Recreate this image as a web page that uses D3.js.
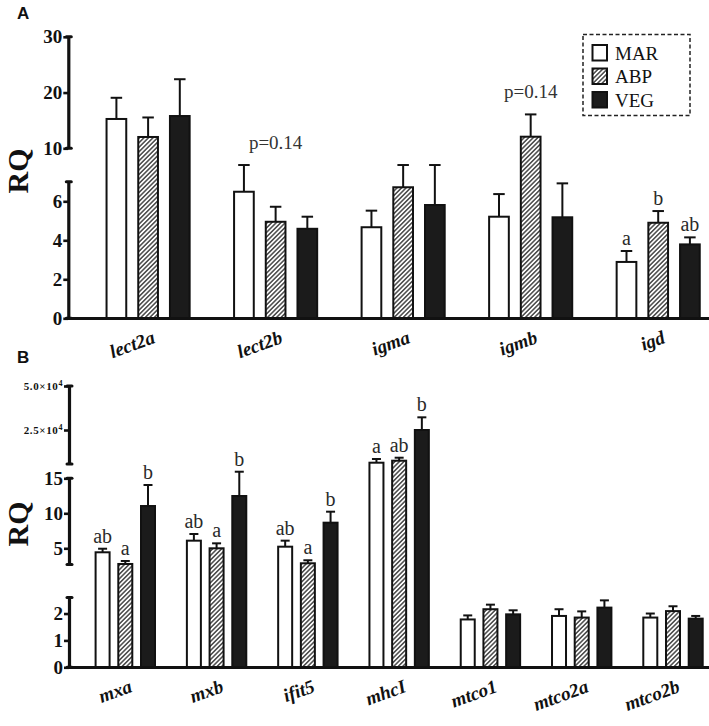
<!DOCTYPE html>
<html><head><meta charset="utf-8">
<script src="https://cdn.jsdelivr.net/npm/d3@7"></script>
<style>body{margin:0;background:#fff}svg{display:block}</style>
</head><body>
<svg id="c" width="709" height="726"></svg>
<script>
// ---------- DATA ----------
const seriesNames = ["MAR", "ABP", "VEG"];

// Panel A
const genesA = ["lect2a", "lect2b", "igma", "igmb", "igd"];
const marA = [15.26, 6.49, 4.67, 5.21, 2.89];
const abpA = [12.03, 4.95, 6.72, 12.08, 4.90];
const vegA = [15.79, 4.59, 5.81, 5.18, 3.79];
const marErrA = [3.8, 1.37, 0.85, 1.16, 0.56];
const abpErrA = [3.5, 0.77, 1.14, 4.0, 0.60];
const vegErrA = [6.6, 0.62, 2.05, 1.74, 0.36];
const ticksA_low = [0, 2, 4, 6];
const ticksA_high = [10, 20, 30];
const lettersA = [
  {gene: "igd", series: "MAR", text: "a"},
  {gene: "igd", series: "ABP", text: "b"},
  {gene: "igd", series: "VEG", text: "ab"}
];
const pLabelsA = [
  {gene: "lect2b", text: "p=0.14"},
  {gene: "igmb", text: "p=0.14"}
];

// Panel B
const genesB = ["mxa", "mxb", "ifit5", "mhcI", "mtco1", "mtco2a", "mtco2b"];
const marB = [4.43, 6.09, 5.23, 6420, 1.78, 1.91, 1.85];
const abpB = [2.76, 5.00, 2.86, 7560, 2.16, 1.85, 2.09];
const vegB = [11.04, 12.47, 8.66, 25000, 1.97, 2.22, 1.81];
const marErrB = [0.51, 0.95, 0.86, 2100, 0.15, 0.25, 0.15];
const abpErrB = [0.43, 0.71, 0.43, 1700, 0.17, 0.23, 0.18];
const vegErrB = [3.0, 3.47, 1.57, 7200, 0.15, 0.27, 0.10];
const ticksB_low = [0, 1, 2];
const ticksB_mid = [5, 10, 15];
const ticksB_high = [25000, 50000];
const tickLabelsB_high = ["2.5", "5.0"];
const lettersB = [
  {gene: "mxa", series: "MAR", text: "ab"}, {gene: "mxa", series: "ABP", text: "a"}, {gene: "mxa", series: "VEG", text: "b"},
  {gene: "mxb", series: "MAR", text: "ab"}, {gene: "mxb", series: "ABP", text: "a"}, {gene: "mxb", series: "VEG", text: "b"},
  {gene: "ifit5", series: "MAR", text: "ab"}, {gene: "ifit5", series: "ABP", text: "a"}, {gene: "ifit5", series: "VEG", text: "b"},
  {gene: "mhcI", series: "MAR", text: "a"}, {gene: "mhcI", series: "ABP", text: "ab"}, {gene: "mhcI", series: "VEG", text: "b"}
];

// ---------- DRAW ----------
const W = 709;
const svg = d3.select("#c");
const defs = svg.append("defs");
const pat = defs.append("pattern").attr("id", "hatch").attr("patternUnits", "userSpaceOnUse")
  .attr("width", 3.2).attr("height", 3.2).attr("patternTransform", "rotate(45)");
pat.append("rect").attr("width", 3.2).attr("height", 3.2).attr("fill", "#fff");
pat.append("line").attr("x1", 0.8).attr("y1", 0).attr("x2", 0.8).attr("y2", 3.2)
  .attr("stroke", "#3a3a3a").attr("stroke-width", 1.4);

const fills = {MAR: "#ffffff", ABP: "url(#hatch)", VEG: "#1b1b1b"};
const SERIF = "Liberation Serif, Times New Roman, serif";

function panel(cfg) {
  const g = svg.append("g");
  const segs = cfg.segments.map(s => Object.assign({}, s, {
    scale: d3.scaleLinear().domain(s.domain).range(s.range)
  }));
  const yOf = v => {
    let seg = segs[0];
    for (const s of segs) if (v >= s.domain[0]) seg = s;
    return seg.scale(v);
  };
  const xG = d3.scalePoint().domain(cfg.genes).range(cfg.centers);
  const pad = 1 - cfg.barOuter / cfg.step;
  const xS = d3.scaleBand().domain(seriesNames)
    .range([-1.5 * cfg.step, 1.5 * cfg.step]).paddingInner(pad).paddingOuter(pad / 2);
  const bw = xS.bandwidth();

  const rows = [];
  cfg.genes.forEach((gene, i) => {
    seriesNames.forEach((s, j) => {
      rows.push({gene, series: s, v: cfg.values[j][i], e: cfg.errors[j][i]});
    });
  });
  const cx = d => xG(d.gene) + xS(d.series) + bw / 2;

  // error bars
  const eb = g.append("g").attr("stroke", "#111").attr("stroke-width", 2);
  eb.selectAll("line.v").data(rows).join("line").attr("class", "v")
    .attr("x1", cx).attr("x2", cx)
    .attr("y1", d => yOf(d.v)).attr("y2", d => yOf(d.v + d.e));
  eb.selectAll("line.c").data(rows).join("line").attr("class", "c")
    .attr("x1", d => cx(d) - cfg.capW / 2).attr("x2", d => cx(d) + cfg.capW / 2)
    .attr("y1", d => yOf(d.v + d.e)).attr("y2", d => yOf(d.v + d.e));

  // bars
  g.append("g").selectAll("rect").data(rows).join("rect")
    .attr("x", d => xG(d.gene) + xS(d.series) + 1)
    .attr("width", bw - 2)
    .attr("y", d => yOf(d.v))
    .attr("height", d => cfg.baseY - yOf(d.v))
    .attr("fill", d => fills[d.series])
    .attr("stroke", "#111").attr("stroke-width", 2);

  // y axis segments (broken axis)
  segs.forEach(s => {
    const ax = d3.axisLeft(s.scale).tickValues(s.ticks).tickSize(5).tickPadding(1).tickSizeOuter(0)
      .tickFormat(d3.format("d"));
    const a = g.append("g").attr("transform", `translate(${cfg.axisX},0)`).call(ax)
      .attr("font-family", SERIF).attr("font-size", s.fontSize || 19).attr("font-weight", "bold");
    a.select(".domain").attr("stroke", "#111").attr("stroke-width", 3.2);
    a.selectAll(".tick line").attr("stroke", "#111").attr("stroke-width", 2.6);
    a.selectAll(".tick text").attr("fill", "#111");
    if (s.sup) {
      a.selectAll(".tick text").each(function (d, i) {
        const t = d3.select(this);
        t.text(null).attr("letter-spacing", 0.6);
        t.append("tspan").text(s.sup.mant[i] + "\u00d710");
        t.append("tspan").attr("dy", "-0.45em").attr("font-size", 8).text(s.sup.exp);
      });
    }
    a.selectAll("rect.cap").data(s.range).join("rect").attr("class", "cap")
      .attr("x", -3.5).attr("width", 8).attr("y", d => d - 1.5).attr("height", 3)
      .attr("rx", 1.5).attr("fill", "#111");
  });

  // x baseline
  g.append("line").attr("x1", cfg.axisX - 1).attr("x2", W).attr("y1", cfg.baseY).attr("y2", cfg.baseY)
    .attr("stroke", "#111").attr("stroke-width", 3.2);

  // x labels, rotated -20deg, end-anchored near the group centre
  g.append("g").selectAll("text").data(cfg.genes).join("text")
    .attr("transform", d => `translate(${xG(d) + 8},${cfg.baseY + 24}) rotate(-20)`)
    .attr("text-anchor", "end")
    .attr("font-family", SERIF).attr("font-weight", "bold").attr("font-style", "italic")
    .attr("font-size", 19).attr("fill", "#111").text(d => d);

  // significance letters
  const rowOf = (gene, s) => rows.find(r => r.gene === gene && r.series === s);
  g.append("g").selectAll("text").data(cfg.letters).join("text")
    .attr("x", d => cx(rowOf(d.gene, d.series)))
    .attr("y", d => { const r = rowOf(d.gene, d.series); return yOf(r.v + r.e) - 6; })
    .attr("text-anchor", "middle")
    .attr("font-family", SERIF).attr("font-size", 20).attr("fill", "#2a2a2a")
    .text(d => d.text);

  // p labels
  if (cfg.pLabels) {
    g.append("g").selectAll("text").data(cfg.pLabels).join("text")
      .attr("x", d => xG(d.gene))
      .attr("y", d => d3.min(rows.filter(r => r.gene === d.gene), r => yOf(r.v + r.e)) - 16)
      .attr("text-anchor", "middle")
      .attr("font-family", SERIF).attr("font-size", 19).attr("fill", "#333")
      .text(d => d.text);
  }

  // y title
  g.append("text").attr("transform", `translate(28,${cfg.titleY}) rotate(-90)`)
    .attr("text-anchor", "middle")
    .attr("font-family", SERIF).attr("font-weight", "bold").attr("font-size", 30)
    .attr("fill", "#111").text("RQ");

  // panel letter
  g.append("text").attr("x", 17).attr("y", cfg.letterY)
    .attr("font-family", "Liberation Sans, Arial, sans-serif").attr("font-weight", "bold")
    .attr("font-size", 17).attr("fill", "#111").text(cfg.letter);
}

panel({
  letter: "A", letterY: 19, titleY: 171,
  genes: genesA,
  values: [marA, abpA, vegA], errors: [marErrA, abpErrA, vegErrA],
  centers: [148.1, 658.2], step: 31.7, barOuter: 21.7, capW: 11.5,
  axisX: 68.3, baseY: 318.5,
  segments: [
    {domain: [0, 7], range: [318.3, 181.8], ticks: ticksA_low},
    {domain: [10, 30], range: [148.3, 36.8], ticks: ticksA_high}
  ],
  letters: lettersA, pLabels: pLabelsA
});

panel({
  letter: "B", letterY: 363, titleY: 524,
  genes: genesB,
  values: [marB, abpB, vegB], errors: [marErrB, abpErrB, vegErrB],
  centers: [125.3, 673], step: 22.7, barOuter: 16, capW: 9,
  axisX: 69, baseY: 667.5,
  segments: [
    {domain: [0, 2.6], range: [667.3, 597.4], ticks: ticksB_low},
    {domain: [2.7, 15], range: [564.4, 478.3], ticks: ticksB_mid},
    {domain: [5682, 50000], range: [464, 386], ticks: ticksB_high, fontSize: 11,
     sup: {mant: tickLabelsB_high, exp: "4"}}
  ],
  letters: lettersB
});

// legend (panel A)
const leg = svg.append("g");
leg.append("rect").attr("x", 583).attr("y", 34.5).attr("width", 107).attr("height", 81)
  .attr("fill", "none").attr("stroke", "#222").attr("stroke-width", 1.5).attr("stroke-dasharray", "4,2.5");
const li = leg.selectAll("g").data(seriesNames).join("g")
  .attr("transform", (d, i) => `translate(0,${i * 23.5})`);
li.append("rect").attr("x", 592.5).attr("y", 45).attr("width", 14.5).attr("height", 15.5)
  .attr("fill", d => fills[d]).attr("stroke", "#111").attr("stroke-width", 2);
li.append("text").attr("x", 615).attr("y", 59.5)
  .attr("font-family", SERIF).attr("font-size", 19).attr("fill", "#111").text(d => d);
</script>
</body></html>
